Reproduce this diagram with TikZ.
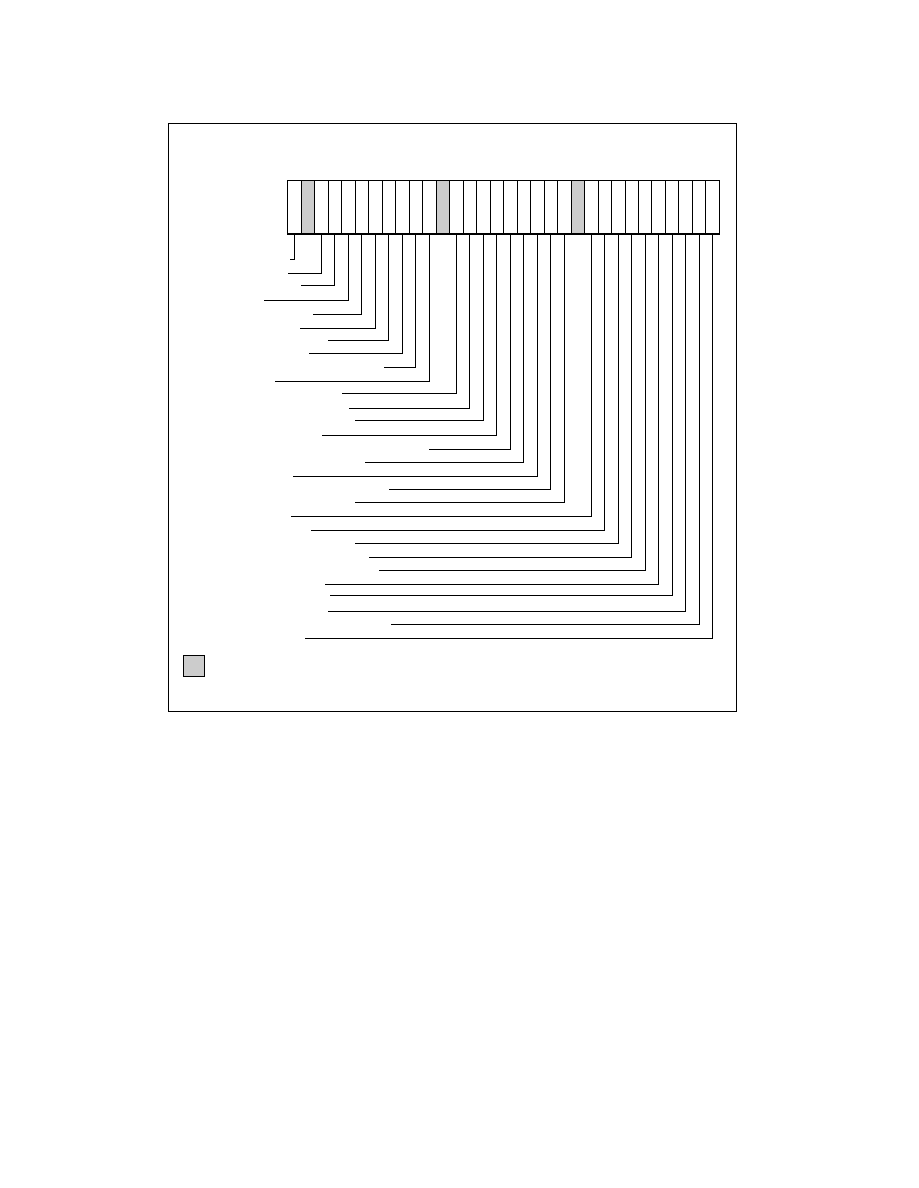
\documentclass[tikz,border=0pt]{standalone}
\usepackage{tikz}
\usepackage{xcolor}
\definecolor{cellgrey}{RGB}{204,204,204}

\begin{document}
\begin{tikzpicture}[
    x=0.02352cm, y=-0.02352cm,
    cell/.style={
        rectangle,
        draw,
        line width=0.6pt,
        inner sep=0pt,
        outer sep=0pt,
        minimum width=0.3173cm,
        minimum height=1.2536cm
    },
    resv/.style={cell, fill=cellgrey},
    lead/.style={line width=0.667pt},
    keybox/.style={
        rectangle,
        draw,
        line width=0.7pt,
        fill=cellgrey,
        minimum size=0.482cm,
        inner sep=0pt
    }
]

\useasboundingbox (0,0) rectangle (918,1188);

\draw[line width=0.7pt] (168.5,123.5) rectangle (736.5,711.5);

% register cells
\foreach \i in {0,...,31} {
    \pgfmathsetmacro{\cx}{287.7+(\i+0.5)*13.49}
    \ifnum\i=1 \node[resv] (c\i) at (\cx,207.35) {};
    \else\ifnum\i=11 \node[resv] (c\i) at (\cx,207.35) {};
    \else\ifnum\i=21 \node[resv] (c\i) at (\cx,207.35) {};
    \else \node[cell] (c\i) at (\cx,207.35) {};
    \fi\fi\fi
}
\draw[line width=1pt] (c0.north west) rectangle (c31.south east);

% leader lines
\foreach \i/\ly/\lx in {
    0/259.5/290, 2/273.5/288, 3/285.5/301, 4/300.5/264,
    5/314.5/313.3, 6/328.5/300, 7/340.5/328.3, 8/353.5/309,
    9/367.5/384, 10/381.5/274.5, 12/393.5/341.7, 13/408.5/348.7,
    14/420.5/355, 15/435.5/321.7, 16/449.5/429.3, 17/462.5/365.3,
    18/476.5/293, 19/489.5/389, 20/502.5/355, 22/516.5/291,
    23/530.5/311, 24/543.5/355, 25/557.5/369, 26/570.5/379,
    27/584.5/324.7, 28/595.5/329.7, 29/611.5/328, 30/624.5/391,
    31/638.5/304.7} {
    \coordinate (l\i) at (\lx,\ly);
    \draw[lead] (c\i.south) |- (l\i);
}

\node[keybox] (key) at (194,666) {};

\end{tikzpicture}
\end{document}
